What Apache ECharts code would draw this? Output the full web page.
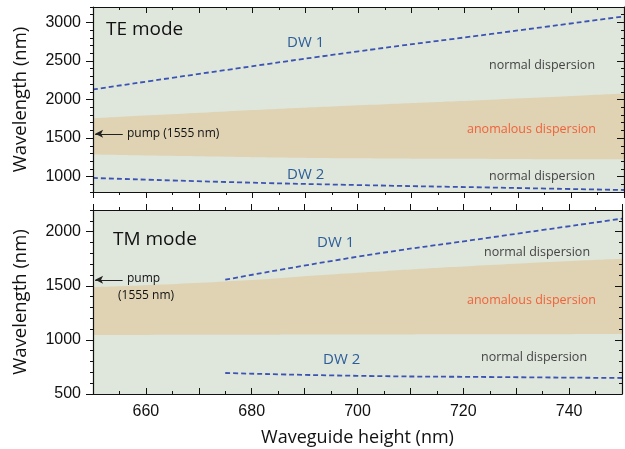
<!DOCTYPE html>
<html>
<head>
<meta charset="utf-8">
<script src="https://cdn.jsdelivr.net/npm/echarts@6/dist/echarts.min.js"></script>
<style>
  html, body { margin: 0; padding: 0; background: #fff; }
  #main { width: 625px; height: 449px; }
</style>
</head>
<body>
<div id="main"></div>
<script>
// waveguide heights (nm)
var heights = [650, 675, 700, 725, 750];
var heightsTM = [675, 700, 725, 750];

// TE mode (top panel)
var teAnomUpper = [1757, 1845, 1925, 1998, 2078];
var teAnomLower = [1286, 1258, 1237, 1229, 1225];
var teDW1 = [2130, 2382, 2625, 2850, 3078];
var teDW2 = [982, 930, 890, 858, 826];

// TM mode (bottom panel)
var tmAnomUpper = [1488, 1540, 1620, 1692, 1750];
var tmAnomLower = [1046, 1048, 1050, 1052, 1055];
var tmDW1 = [1556, 1768, 1945, 2120];
var tmDW2 = [694, 668, 657, 648];

var pump = 1555;
var teTicks = [1000, 1500, 2000, 2500, 3000];
var tmTicks = [500, 1000, 1500, 2000];

var green = "#dfe7dc";
var tan = "#dfd3b4";
var dashBlue = "#3c53b3";
var labelBlue = "#2c5d98";
var axisFont = "Liberation Sans";
var textFont = "Open Sans";

function pairs(xs, ys) {
  return xs.map(function (x, i) { return [x, ys[i]]; });
}

function xAx(grid, pos, inside, labels) {
  return {
    type: "value", gridIndex: grid, position: pos,
    min: 650, max: 750, interval: 10, z: 10,
    axisLine: { show: true, onZero: false, lineStyle: { color: "#111", width: 1.2 } },
    axisTick: { show: true, inside: inside, length: 6, lineStyle: { color: "#111" } },
    minorTick: { show: true, splitNumber: 2, length: 3, lineStyle: { color: "#111" } },
    splitLine: { show: false },
    axisLabel: labels ? {
      show: true, color: "#111", fontSize: 16, fontFamily: axisFont, margin: 10,
      formatter: function (v) { return v % 20 === 0 && v > 650 && v < 750 ? v : ""; }
    } : { show: false },
    name: labels ? "Waveguide height (nm)" : "",
    nameLocation: "middle", nameGap: 35,
    nameTextStyle: { fontSize: 18, fontFamily: textFont, color: "#111" }
  };
}

function yMinor(grid, pos, min, max, inside, name) {
  return {
    type: "value", gridIndex: grid, position: pos,
    min: min, max: max, interval: 100, z: 10,
    axisLine: { show: true, onZero: false, lineStyle: { color: "#111", width: 1.2 } },
    axisTick: { show: true, inside: inside, length: 3, lineStyle: { color: "#111" } },
    splitLine: { show: false },
    axisLabel: name ? {
      show: true, color: "#111", fontSize: 16, fontFamily: axisFont, margin: 12,
      formatter: function (v) { return v % 500 === 0 ? v : ""; }
    } : { show: false },
    name: name || "", nameLocation: "middle", nameGap: 63,
    nameTextStyle: { fontSize: 18.5, fontFamily: textFont, color: "#111" }
  };
}

function yMajor(grid, pos, min, max, ticks, inside) {
  return {
    type: "value", gridIndex: grid, position: pos,
    min: min, max: max, z: 10,
    axisLine: { show: false },
    axisTick: { show: true, inside: inside, length: 7, customValues: ticks, lineStyle: { color: "#111" } },
    splitLine: { show: false },
    axisLabel: { show: false }
  };
}

function area(name, xi, yi, xs, ys, color) {
  return {
    name: name, type: "line", xAxisIndex: xi, yAxisIndex: yi,
    data: pairs(xs, ys), smooth: true, showSymbol: false, silent: true,
    lineStyle: { width: 0 }, areaStyle: { color: color, opacity: 1, origin: "start" }
  };
}

function dashed(name, xi, yi, xs, ys) {
  return {
    name: name, type: "line", xAxisIndex: xi, yAxisIndex: yi,
    data: pairs(xs, ys), smooth: true, showSymbol: false, silent: true,
    lineStyle: { color: dashBlue, width: 1.8, type: [5, 3] }
  };
}

function pumpArrow(xi, yi) {
  return {
    type: "line", xAxisIndex: xi, yAxisIndex: yi, data: [], silent: true,
    markLine: {
      silent: true, animation: false,
      label: { show: false },
      lineStyle: { color: "#222", width: 1, type: "solid" },
      symbolSize: [6, 8],
      data: [[
        { coord: [650.4, pump], symbol: "arrow", symbolRotate: 90 },
        { coord: [655.6, pump], symbol: "none" }
      ]]
    }
  };
}

function txt(x, y, s, color, size) {
  return {
    type: "text", x: x, y: y, z: 100,
    style: { text: s, fill: color, font: size + "px '" + textFont + "'", textAlign: "left", textVerticalAlign: "middle" }
  };
}

var chart = echarts.init(document.getElementById("main"));
chart.setOption({
  animation: false,
  grid: [
    { left: 93, top: 7, width: 531, height: 185, show: true, backgroundColor: green, borderWidth: 0 },
    { left: 93, top: 210, width: 531, height: 184, show: true, backgroundColor: green, borderWidth: 0 }
  ],
  xAxis: [
    xAx(0, "bottom", false, false),
    xAx(0, "top", true, false),
    xAx(1, "top", false, false),
    xAx(1, "bottom", true, true)
  ],
  yAxis: [
    yMinor(0, "left", 800, 3200, false, "Wavelength (nm)"),
    yMajor(0, "left", 800, 3200, teTicks, false),
    yMinor(0, "right", 800, 3200, true, null),
    yMajor(0, "right", 800, 3200, teTicks, true),
    yMinor(1, "left", 500, 2200, false, "Wavelength (nm)"),
    yMajor(1, "left", 500, 2200, tmTicks, false),
    yMinor(1, "right", 500, 2200, true, null),
    yMajor(1, "right", 500, 2200, tmTicks, true)
  ],
  series: [
    area("TE anomalous upper", 0, 0, heights, teAnomUpper, tan),
    area("TE anomalous lower", 0, 0, heights, teAnomLower, green),
    dashed("TE DW 1", 0, 0, heights, teDW1),
    dashed("TE DW 2", 0, 0, heights, teDW2),
    pumpArrow(0, 0),
    area("TM anomalous upper", 3, 4, heights, tmAnomUpper, tan),
    area("TM anomalous lower", 3, 4, heights, tmAnomLower, green),
    dashed("TM DW 1", 3, 4, heightsTM, tmDW1),
    dashed("TM DW 2", 3, 4, heightsTM, tmDW2),
    pumpArrow(3, 4)
  ],
  graphic: [
    txt(106, 30, "TE mode", "#111", 19),
    txt(287, 43, "DW 1", labelBlue, 15),
    txt(287, 175, "DW 2", labelBlue, 15),
    txt(489, 65, "normal dispersion", "#444", 12.5),
    txt(467, 129, "anomalous dispersion", "#f0623a", 12.5),
    txt(489, 176, "normal dispersion", "#444", 12.5),
    txt(127, 134, "pump (1555 nm)", "#111", 12),
    txt(113, 240, "TM mode", "#111", 19),
    txt(317, 243, "DW 1", labelBlue, 15),
    txt(323, 360, "DW 2", labelBlue, 15),
    txt(484, 252, "normal dispersion", "#444", 12.5),
    txt(467, 300, "anomalous dispersion", "#f0623a", 12.5),
    txt(481, 357, "normal dispersion", "#444", 12.5),
    txt(127, 279, "pump", "#111", 12),
    txt(118, 296, "(1555 nm)", "#111", 12)
  ]
});
</script>
</body>
</html>
